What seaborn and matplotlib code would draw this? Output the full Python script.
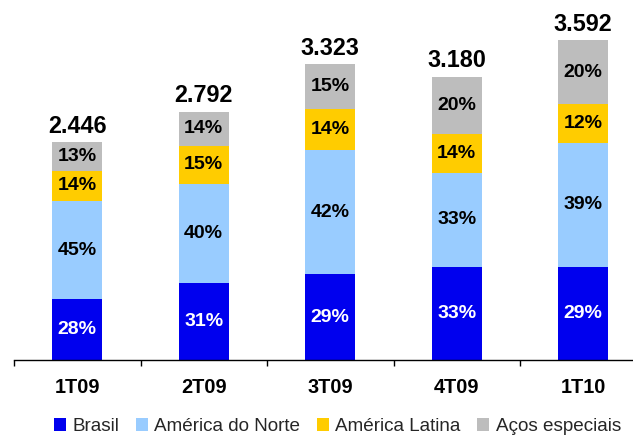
import matplotlib
matplotlib.use("Agg")
import matplotlib.pyplot as plt
from matplotlib.patches import Patch
import seaborn as sns
import numpy as np

categories = ["1T09", "2T09", "3T09", "4T09", "1T10"]
totals = [2446, 2792, 3323, 3180, 3592]
total_labels = ["2.446", "2.792", "3.323", "3.180", "3.592"]
series_names = ["Brasil", "América do Norte", "América Latina", "Aços especiais"]
brasil = [28, 31, 29, 33, 29]
am_norte = [45, 40, 42, 33, 39]
am_latina = [14, 15, 14, 14, 12]
acos = [13, 14, 15, 20, 20]

colors = ["#0000EE", "#99CCFF", "#FFCC00", "#BDBDBD"]
text_colors = ["white", "black", "black", "black"]

sns.set_theme(style="white")
plt.rcParams["font.family"] = ["Liberation Sans", "DejaVu Sans"]

fig = plt.figure(figsize=(6.33, 4.37), dpi=100)
ax = fig.add_axes([14 / 633, 77 / 437, 632.5 / 633, 360 / 437])

pcts = np.array([brasil, am_norte, am_latina, acos], dtype=float)
tot = np.array(totals, dtype=float)
seg = pcts / 100.0 * tot
cum = np.cumsum(seg, axis=0)

# draw from top layer down so lower layers overlay
for i in range(3, -1, -1):
    sns.barplot(x=categories, y=cum[i], color=colors[i], width=0.395,
                saturation=1, ax=ax, linewidth=0)

for i in range(4):
    for j in range(5):
        center = cum[i, j] - seg[i, j] / 2
        ax.text(j, center, f"{int(pcts[i, j])}%", ha="center", va="center",
                fontsize=14, fontweight="bold", color=text_colors[i])

for j in range(5):
    ax.annotate(total_labels[j], xy=(j, tot[j]), xytext=(0, 7),
                textcoords="offset points", ha="center", va="baseline",
                fontsize=16.8, fontweight="bold", color="black")

ax.set_xlim(-0.5, 4.5)
ax.set_ylim(0, 4045)
ax.set_yticks([])
ax.set_ylabel("")
for s in ["top", "right", "left"]:
    ax.spines[s].set_visible(False)
ax.spines["bottom"].set_color("black")
ax.spines["bottom"].set_linewidth(1.0)
ax.set_xticks(range(5))
ax.set_xticklabels(categories, fontsize=14.3, fontweight="bold")
ax.tick_params(axis="x", which="major", length=0, pad=13, colors="black")
ax.set_xticks([-0.5, 0.5, 1.5, 2.5, 3.5], minor=True)
ax.tick_params(axis="x", which="minor", length=4, width=1, color="black",
               direction="out", bottom=True)

handles = [Patch(facecolor=c, edgecolor="none") for c in colors]
fig.legend(handles, series_names, loc="upper center",
           bbox_to_anchor=(0.533, 0.043), ncol=4, frameon=False,
           fontsize=13.6, handlelength=0.65, handleheight=0.65,
           handletextpad=0.35, columnspacing=0.85, borderaxespad=0,
           borderpad=0)

fig.savefig("out.png", dpi=100)
